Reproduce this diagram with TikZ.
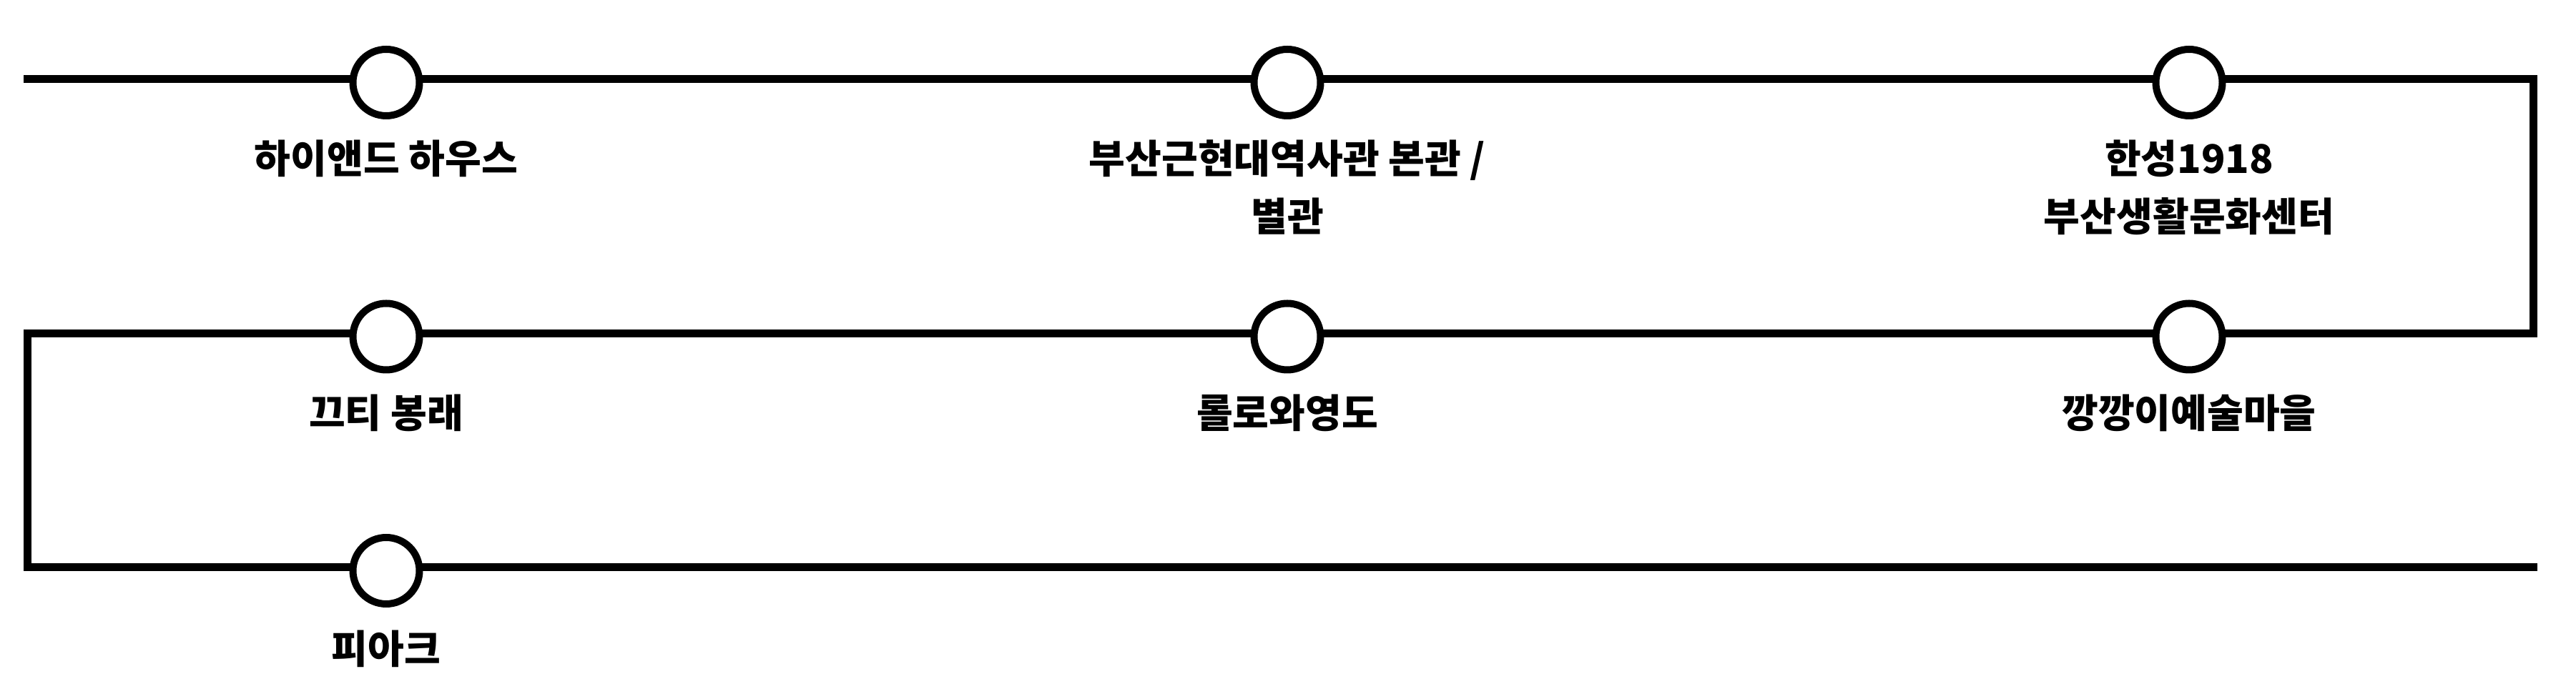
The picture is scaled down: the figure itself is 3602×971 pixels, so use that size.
\documentclass[tikz,border=0pt]{standalone}
\usepackage{fontspec}
\newfontfamily\kr{Noto Sans CJK KR}
\begin{document}
\begin{tikzpicture}[
  x=0.25pt, y=-0.25pt,
  track/.style={line width=2.75pt, line join=miter, line cap=butt},
  station/.style={circle, draw, line width=2.5pt, fill=white, minimum size=23.25pt, inner sep=0pt},
  lbl/.style={anchor=base, inner sep=0pt, font=\kr\bfseries\fontsize{13.8pt}{20.25pt}\selectfont},
]
\useasboundingbox (0,0) rectangle (3602,971);
\fill[white] (0,0) rectangle (3602,971);
% track corners
\coordinate (start) at (33,111);
\coordinate (c1) at (3542.5,111);
\coordinate (c2) at (3542.5,466.5);
\coordinate (c3) at (38.5,466.5);
\coordinate (c4) at (38.5,794);
\coordinate (end) at (3548,794);
\draw[track] (start) -- (c1) -- (c2) -- (c3) -- (c4) -- (end);
% stations
\node[station] (s1) at (540,115.5) {};
\node[station] (s2) at (1800,115.5) {};
\node[station] (s3) at (3061,115.5) {};
\node[station] (s4) at (3061,471) {};
\node[station] (s5) at (1800,471) {};
\node[station] (s6) at (540,471) {};
\node[station] (s7) at (540,798.5) {};
% labels
\node[lbl] (l1) at (540,243) {하이앤드 하우스};
\node[lbl] (l2) at (1800,243) {\begin{tabular}[t]{@{}c@{}}부산근현대역사관 본관 /\\별관\end{tabular}};
\node[lbl] (l3) at (3061,243) {\begin{tabular}[t]{@{}c@{}}한성1918\\부산생활문화센터\end{tabular}};
\node[lbl] (l4) at (3061,599) {깡깡이예술마을};
\node[lbl] (l5) at (1800,599) {롤로와영도};
\node[lbl] (l6) at (540,599) {끄티 봉래};
\node[lbl] (l7) at (540,929) {피아크};
\end{tikzpicture}
\end{document}
